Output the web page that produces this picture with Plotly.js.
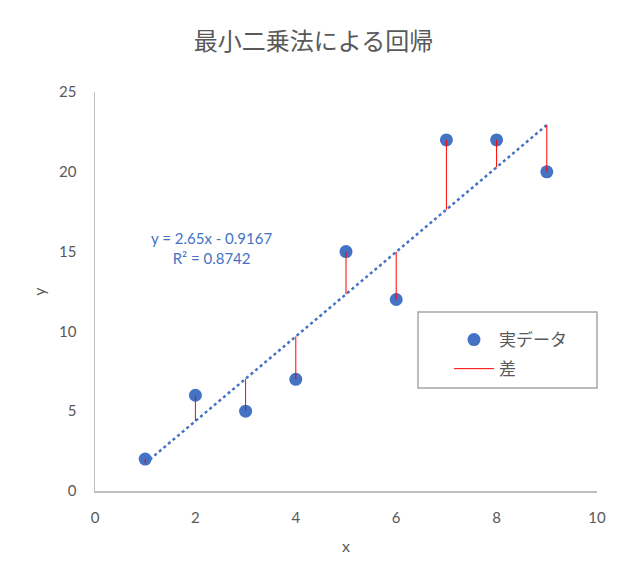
<!DOCTYPE html>
<html>
<head>
<meta charset="utf-8">
<script src="https://cdn.plot.ly/plotly-3.0.1.min.js"></script>
<style>html,body{margin:0;padding:0;background:#fff;}#chart{width:627px;height:583px;}</style>
</head>
<body>
<div id="chart"></div>
<script>
var xValues = [1, 2, 3, 4, 5, 6, 7, 8, 9];
var yValues = [2, 6, 5, 7, 15, 12, 22, 22, 20];
var seriesNames = ["実データ", "差"];
var chartTitle = "最小二乗法による回帰";
var xTicks = [0, 2, 4, 6, 8, 10];
var yTicks = [0, 5, 10, 15, 20, 25];

// least squares fit computed from the data
var n = xValues.length;
var mx = xValues.reduce(function(a,b){return a+b;},0)/n;
var my = yValues.reduce(function(a,b){return a+b;},0)/n;
var sxy = 0, sxx = 0, syy = 0;
for (var i=0;i<n;i++){ sxy += (xValues[i]-mx)*(yValues[i]-my); sxx += (xValues[i]-mx)*(xValues[i]-mx); syy += (yValues[i]-my)*(yValues[i]-my); }
var slope = sxy/sxx, intercept = my - slope*mx;
var r2 = (sxy*sxy)/(sxx*syy);
var fitY = xValues.map(function(x){return slope*x+intercept;});

var rx = [], ry = [];
for (var j=0;j<n;j++){ rx.push(xValues[j], xValues[j], null); ry.push(fitY[j], yValues[j], null); }

var FONT = "Lato, 'Noto Sans CJK JP', sans-serif";
var GREY = "#595959";

var traces = [
  {x: [xValues[0], xValues[n-1]], y: [fitY[0], fitY[n-1]], mode: "lines", showlegend: false, hoverinfo: "skip",
   line: {color: "#4472C4", width: 2.5, dash: "dot"}},
  {x: xValues, y: yValues, mode: "markers", name: seriesNames[0], legendgroup: "a", legendrank: 1,
   marker: {color: "#4472C4", size: 13}},
  {x: rx, y: ry, mode: "lines", name: seriesNames[1], legendgroup: "b", legendrank: 2,
   line: {color: "#FF0000", width: 1}, connectgaps: false}
];

var sign = intercept < 0 ? "- " : "+ ";
var px = function(p){ return (p-95)/502; };
var py = function(p){ return (491-p)/399; };
var layout = {
  width: 627, height: 583,
  margin: {l: 95, r: 30, t: 92, b: 92},
  paper_bgcolor: "#fff", plot_bgcolor: "#fff",
  font: {family: FONT, color: GREY, size: 14},
  title: {text: chartTitle, x: 0.5, xanchor: "center", y: 0.928, yanchor: "middle",
          font: {family: "'Noto Sans CJK JP', sans-serif", size: 24, color: GREY}},
  xaxis: {range: [0, 10], tickvals: xTicks, ticktext: xTicks.map(String), showgrid: false, zeroline: false,
          showline: true, linecolor: "#BFBFBF", linewidth: 1.5, ticks: "", ticklen: 0, ticklabelstandoff: 12,
          tickfont: {size: 15, color: GREY}, title: {text: "x", font: {size: 16, color: GREY}, standoff: 16}},
  yaxis: {range: [0, 25], tickvals: yTicks, ticktext: yTicks.map(String), showgrid: false, zeroline: false,
          showline: true, linecolor: "#BFBFBF", linewidth: 1.5, ticks: "", ticklen: 0, ticklabelstandoff: 14,
          tickfont: {size: 15, color: GREY}, title: {text: "y", font: {size: 16, color: GREY}, standoff: 9}},
  legend: {x: px(449), y: py(322), xanchor: "left", yanchor: "top", borderwidth: 0,
           bgcolor: "rgba(0,0,0,0)", font: {family: "'Noto Sans CJK JP', sans-serif", size: 17, color: GREY},
           traceorder: "grouped", tracegroupgap: 4, itemwidth: 40},
  shapes: [
    {type: "rect", xref: "paper", yref: "paper", x0: px(418), x1: px(597), y0: py(388), y1: py(312),
     line: {color: "#A6A6A6", width: 1.5}, fillcolor: "rgba(0,0,0,0)", layer: "below"}
  ],
  annotations: [
    {xref: "paper", yref: "paper", x: px(211), y: py(248), xanchor: "center", yanchor: "middle",
     text: "y = " + slope.toFixed(2) + "x " + sign + Math.abs(intercept).toFixed(4) + "<br>R² = " + r2.toFixed(4),
     showarrow: false, align: "center", font: {family: FONT, size: 15, color: "#4472C4"}}
  ]
};
Plotly.newPlot("chart", traces, layout, {displayModeBar: false, staticPlot: true});
</script>
</body>
</html>
